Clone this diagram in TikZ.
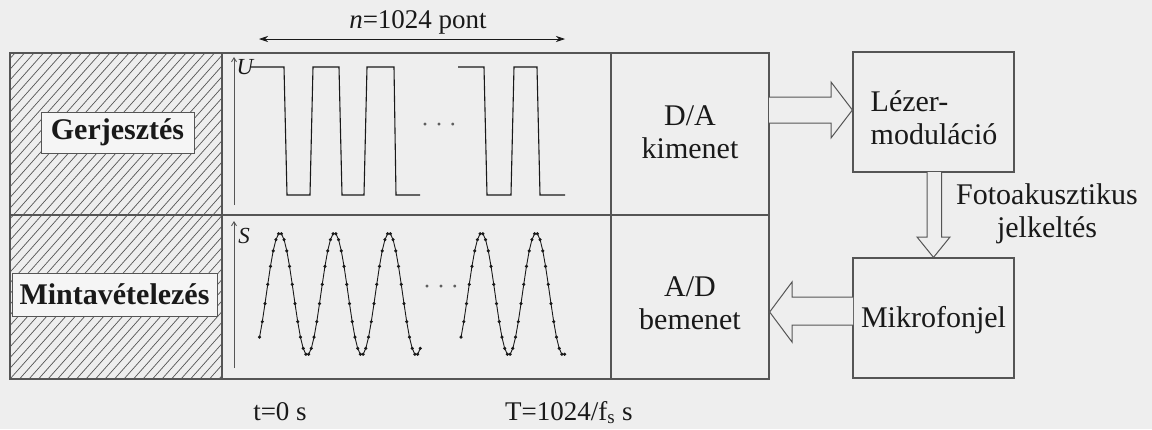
\documentclass[tikz,border=0pt]{standalone}
\usepackage{fontspec}
\setmainfont{Liberation Serif}
\usetikzlibrary{arrows.meta}
\definecolor{bg}{RGB}{238,238,238}
\definecolor{ln}{RGB}{85,85,85}
\definecolor{tx}{RGB}{25,25,25}
\begin{document}
\begin{tikzpicture}[x=1pt,y=-1pt,
  frame/.style={draw=ln,line width=1.3pt},
  lbl/.style={draw=ln,line width=1pt,fill=bg!60!white,inner sep=0pt,text=tx,font=\fontsize{30}{34}\selectfont\bfseries},
  txt/.style={text=tx,inner sep=0pt,font=\fontsize{30}{33}\selectfont,align=center},
  small/.style={text=tx,inner sep=0pt,font=\fontsize{27}{30}\selectfont},
  axis/.style={draw=ln,line width=0.9pt,-{Straight Barb[length=4pt,width=5pt]}},
  wave/.style={draw=tx,line width=1.1pt},
  hollow/.style={draw=ln,line width=1pt,fill=bg,line join=miter},
  hatchline/.style={draw=ln,line width=0.7pt}]
\useasboundingbox[fill=bg] (0,0) rectangle (1152,429);
% hatching of the first column
\begin{scope}
\clip (10,53) rectangle (222,379);
\foreach \i in {-34,...,24}
  \draw[hatchline] ({10+\i*9.5},379) -- ++(290,-326);
\end{scope}
% table frame
\node[frame,minimum width=759pt,minimum height=326pt,inner sep=0pt] (table) at (389.5,216) {};
\coordinate (c1t) at (222,53); \coordinate (c1b) at (222,379);
\coordinate (c2t) at (611,53); \coordinate (c2b) at (611,379);
\coordinate (rl) at (10,215); \coordinate (rr) at (769,215);
\draw[frame] (c1t) -- (c1b);
\draw[frame] (c2t) -- (c2b);
\draw[frame] (rl) -- (rr);
% row labels
\node[lbl,minimum width=153pt,minimum height=41pt] (gerj) at (117.5,132.5) {Gerjesztés};
\node[lbl,minimum width=205pt,minimum height=43pt] (minta) at (114.5,294.5) {Mintavételezés};
% n=1024 arrow
\node[small] (npont) at (418,22) {\itshape n\upshape=1024 pont};
\coordinate (na) at (259,39); \coordinate (nb) at (565,39);
\draw[draw=tx,line width=0.7pt,{Stealth[length=9pt,width=6pt]}-{Stealth[length=9pt,width=6pt]}] (na) -- (nb);
% upper plot
\coordinate (ua0) at (234,205); \coordinate (ua1) at (234,57);
\draw[axis] (ua0) -- (ua1);
\node[text=tx,inner sep=0pt,font=\fontsize{23}{23}\selectfont\itshape] (U) at (245,67) {U};
\draw[wave,line join=miter] (251,67) -- (284,67) -- (287,195) -- (310,195) -- (313,67) -- (339,67) -- (342,195) -- (364,195) -- (367,67) -- (394,67) -- (396,195) -- (420,195);
\draw[wave,line join=miter] (458,67) -- (484,67) -- (487,195) -- (511,195) -- (514,67) -- (537,67) -- (540,195) -- (565,195);
\node[text=tx!70,inner sep=0pt,font=\fontsize{24}{24}\selectfont] (dots1) at (439,128) {·\hspace{6pt}·\hspace{6pt}·};
% lower plot
\coordinate (sa0) at (234,368); \coordinate (sa1) at (234,221);
\draw[axis] (sa0) -- (sa1);
\node[text=tx,inner sep=0pt,font=\fontsize{23}{23}\selectfont\itshape] (S) at (244,236) {S};
\draw[wave,line width=0.9pt] plot[domain=-135:927,samples=60,mark=*,mark size=1.1pt,mark options={fill=tx}] ({280+\x/360*54.5},{294-61*cos(\x)});
\draw[wave,line width=0.9pt] plot[domain=-135:549,samples=39,mark=*,mark size=1.1pt,mark options={fill=tx}] ({481.5+\x/360*54.5},{294-61*cos(\x)});
\node[text=tx!70,inner sep=0pt,font=\fontsize{24}{24}\selectfont] (dots2) at (441,290) {·\hspace{6pt}·\hspace{6pt}·};
% converter column texts
\node[txt] (da) at (690,132) {D/A\\kimenet};
\node[txt] (ad) at (690,303) {A/D\\bemenet};
% right boxes
\node[frame,line width=1.2pt,minimum width=161pt,minimum height=120pt,inner sep=0pt] (lezer) at (933.5,112) {};
\node[txt,align=left] (lezertxt) at (934,118) {Lézer-\\moduláció};
\node[frame,line width=1.2pt,minimum width=161pt,minimum height=120pt,inner sep=0pt] (mikro) at (933.5,318) {};
\node[txt] (mikrotxt) at (933.5,320) {Mikrofonjel};
% hollow arrows
\draw[hollow] (769,97) -- (831,97) -- (831,82) -- (lezer.west |- 0,110) -- (831,138) -- (831,123) -- (769,123);
\draw[hollow] (927,172) -- (927,237) -- (917,237) -- (mikro.north) -- (950,237) -- (941.5,237) -- (941.5,172);
\draw[hollow] (853,297) -- (792,297) -- (792,282) -- (table.east |- 0,312) -- (792,342) -- (792,325) -- (853,325);
\node[txt] (foto) at (1047,214) {Fotoakusztikus\\jelkeltés};
% time labels
\node[small,anchor=base] (t0) at (280,420) {t=0 s};
\node[small,anchor=base west] (T) at (505,420) {T=1024/f\textsubscript{s} s};
\end{tikzpicture}
\end{document}
